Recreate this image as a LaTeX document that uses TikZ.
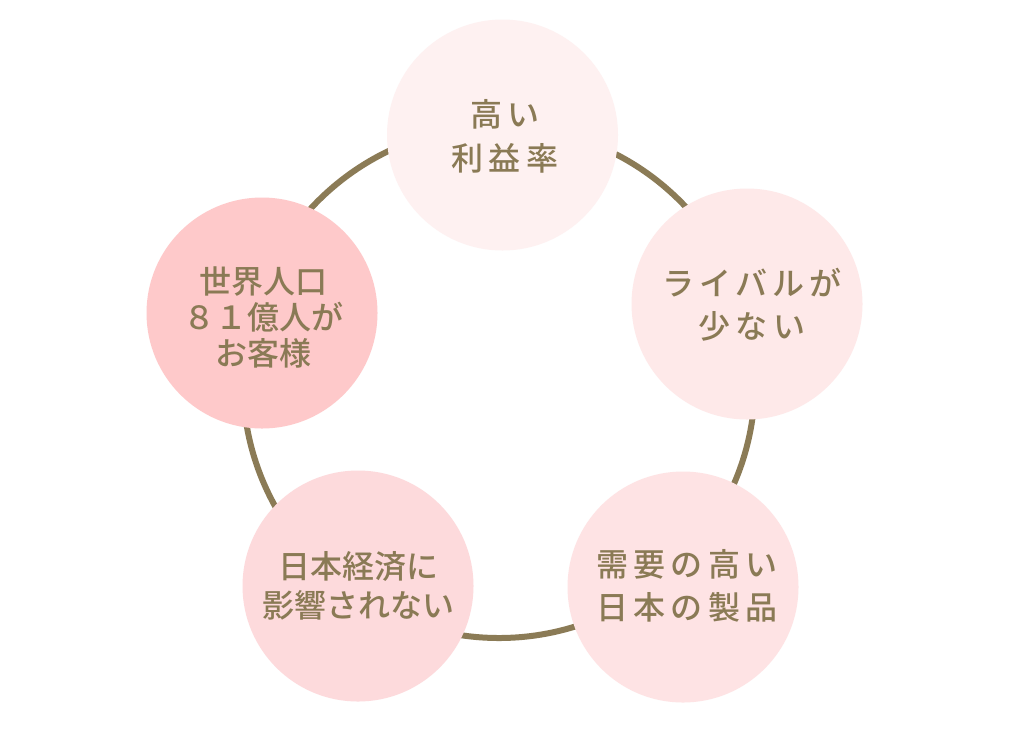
\documentclass[tikz,border=0pt]{standalone}
\usepackage{fontspec}
\newfontfamily\cjk{Noto Sans CJK JP Medium}
\newfontfamily\cjkw[LetterSpace=16]{Noto Sans CJK JP Medium}
\definecolor{ringcol}{HTML}{8B7B56}
\definecolor{txtcol}{HTML}{8A7A55}
\definecolor{cA}{HTML}{FEF1F1}
\definecolor{cB}{HTML}{FEE9E9}
\definecolor{cC}{HTML}{FEE3E4}
\definecolor{cD}{HTML}{FDDADC}
\definecolor{cE}{HTML}{FEC9CA}
\begin{document}
\begin{tikzpicture}[x=1pt,y=-1pt,
  bubble/.style={circle,minimum size=231pt,inner sep=0pt,draw=none},
  label/.style={text=txtcol,align=center,inner sep=0pt}]
\useasboundingbox (0,0) rectangle (1024,740);
\fill[white] (0,0) rectangle (1024,740);
\coordinate (ringc) at (499,382);
\draw[ringcol,line width=6pt] (ringc) circle[radius=256];
\node[bubble,fill=cA] (top) at (502.5,135) {};
\node[bubble,fill=cB] (right) at (747,304) {};
\node[bubble,fill=cC] (br) at (683,587) {};
\node[bubble,fill=cD] (bl) at (358,586) {};
\node[bubble,fill=cE] (left) at (262,313) {};
\node[label,font=\cjkw\fontsize{32}{44}\selectfont] (ttop) at (505,136) {高い\\利益率};
\node[label,font=\cjkw\fontsize{32}{43}\selectfont] (tright) at (752,305) {ライバルが\\少ない};
\node[label,font=\cjkw\fontsize{32}{43}\selectfont] (tbr) at (687,586) {需要の高い\\日本の製品};
\node[label,font=\cjk\fontsize{32}{39}\selectfont] (tbl) at (358,586) {日本経済に\\影響されない};
\node[label,font=\cjk\fontsize{32}{36}\selectfont] (tleft) at (263,317) {世界人口\\８１億人が\\お客様};
\end{tikzpicture}
\end{document}
